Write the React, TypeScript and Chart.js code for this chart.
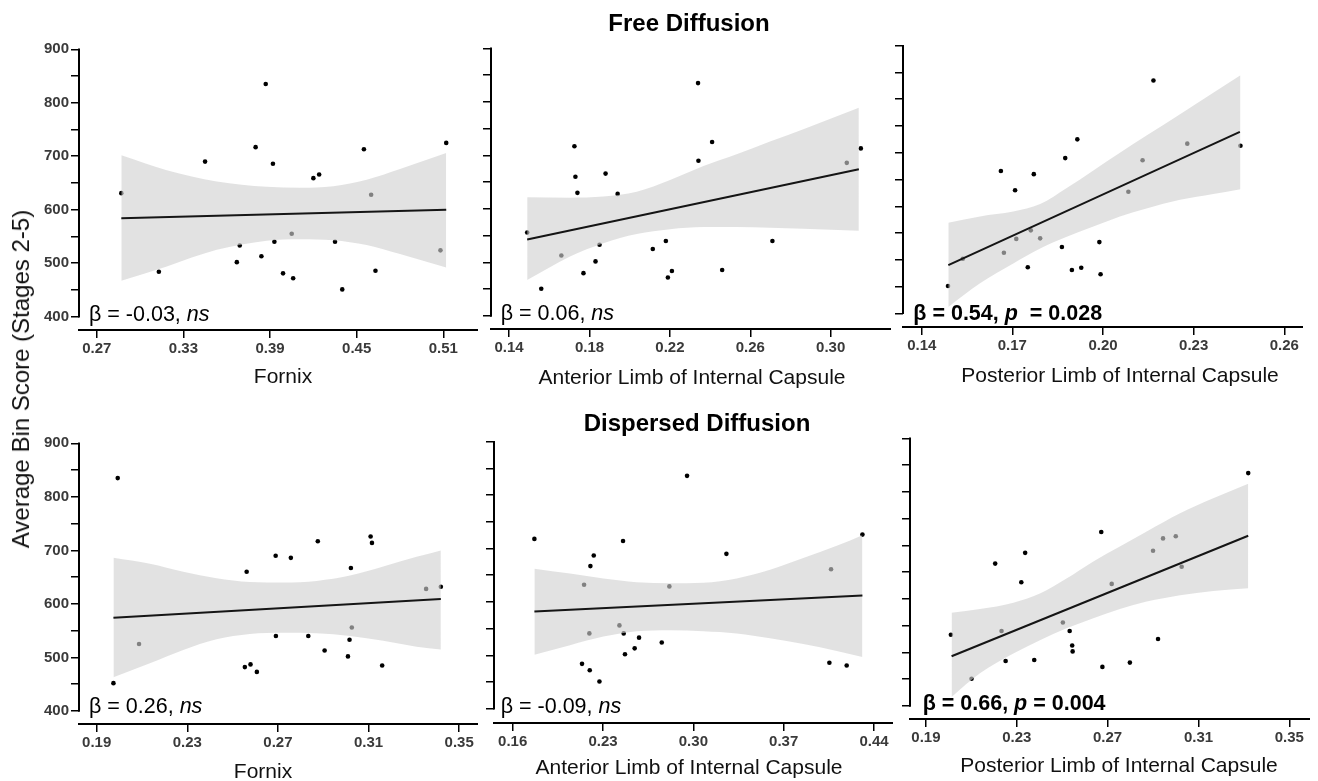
import React, { useEffect, useRef } from "react";
import { Chart, registerables } from "chart.js";

Chart.register(...registerables);

const FONT = '"Liberation Sans", Arial, Helvetica, sans-serif';

// ---------- shared axis ticks ----------
const yTicks = [400, 450, 500, 550, 600, 650, 700, 750, 800, 850, 900];

// ---------- Free Diffusion : Fornix ----------
const freeFornixTicks = [0.27, 0.33, 0.39, 0.45, 0.51];
const freeFornixX = [0.287, 0.313, 0.345, 0.367, 0.369, 0.38, 0.384, 0.387, 0.392, 0.393, 0.399, 0.405, 0.406, 0.42, 0.424, 0.435, 0.44, 0.455, 0.46, 0.463, 0.508, 0.512];
const freeFornixY = [631, 484, 690, 502, 533, 717, 513, 835, 686, 540, 481, 555, 472, 659, 666, 540, 451, 713, 628, 486, 524, 725];
const freeFornixFitX = [0.287, 0.512];
const freeFornixFitY = [584, 600];
const freeFornixBandX = [0.287, 0.3185, 0.3531, 0.3877, 0.4108, 0.4338, 0.4569, 0.48, 0.512];
const freeFornixBandUpper = [702, 674, 653, 643, 641, 644, 656, 676, 706];
const freeFornixBandLower = [467, 494, 525, 542, 545, 543, 534, 517, 492];

// ---------- Free Diffusion : ALIC ----------
const freeAlicTicks = [0.14, 0.18, 0.22, 0.26, 0.3];
const freeAlicX = [0.149, 0.156, 0.166, 0.1725, 0.173, 0.174, 0.177, 0.183, 0.185, 0.188, 0.194, 0.2115, 0.218, 0.219, 0.221, 0.234, 0.2342, 0.241, 0.246, 0.271, 0.308, 0.315];
const freeAlicY = [556, 451, 513, 717, 660, 630, 480, 502, 533, 666, 628, 525, 540, 472, 484, 835, 690, 725, 486, 540, 686, 713];
const freeAlicFitX = [0.149, 0.314];
const freeAlicFitY = [543, 674];
const freeAlicBandX = [0.149, 0.1703, 0.1869, 0.2035, 0.2201, 0.2367, 0.2532, 0.2698, 0.2864, 0.314];
const freeAlicBandUpper = [622, 621, 623, 632, 654, 680, 702, 726, 749, 789];
const freeAlicBandLower = [467, 511, 536, 553, 562, 566, 566, 565, 563, 559];

// ---------- Free Diffusion : PLIC ----------
const freePlicTicks = [0.14, 0.17, 0.2, 0.23, 0.26];
const freePlicX = [0.1487, 0.1536, 0.1662, 0.1672, 0.1709, 0.1713, 0.1751, 0.1761, 0.1771, 0.1792, 0.1864, 0.1875, 0.1897, 0.1915, 0.1928, 0.1988, 0.1992, 0.2084, 0.2131, 0.2167, 0.2279, 0.2455];
const freePlicY = [451, 502, 666, 513, 630, 539, 486, 555, 660, 540, 524, 690, 481, 725, 485, 533, 473, 627, 686, 835, 717, 713];
const freePlicFitX = [0.1488, 0.2453];
const freePlicFitY = [490, 739];
const freePlicBandX = [0.1488, 0.1593, 0.1703, 0.1792, 0.188, 0.1968, 0.2056, 0.2144, 0.2255, 0.2365, 0.2455];
const freePlicBandUpper = [569, 581, 590, 604, 634, 667, 700, 732, 772, 812, 845];
const freePlicBandLower = [412, 456, 493, 521, 543, 562, 581, 596, 612, 623, 632];

// ---------- Dispersed Diffusion : Fornix ----------
const dispFornixTicks = [0.19, 0.23, 0.27, 0.31, 0.35];
const dispFornixX = [0.1974, 0.1993, 0.2087, 0.2554, 0.2562, 0.2579, 0.2607, 0.269, 0.2691, 0.2757, 0.2834, 0.2876, 0.2906, 0.3009, 0.3016, 0.3022, 0.3026, 0.3109, 0.3115, 0.316, 0.3354, 0.3419];
const dispFornixY = [452, 835, 525, 482, 660, 487, 473, 690, 540, 686, 540, 717, 513, 502, 533, 667, 556, 726, 714, 485, 628, 632];
const dispFornixFitX = [0.1974, 0.3419];
const dispFornixFitY = [574, 609];
const dispFornixBandX = [0.1974, 0.2135, 0.2282, 0.2429, 0.2576, 0.2724, 0.2871, 0.3018, 0.3165, 0.3312, 0.3419];
const dispFornixBandUpper = [686, 675, 660, 648, 641, 640, 643, 653, 670, 688, 700];
const dispFornixBandLower = [463, 489, 514, 534, 544, 546, 545, 540, 531, 520, 515];

// ---------- Dispersed Diffusion : ALIC ----------
const dispAlicTicks = [0.16, 0.23, 0.3, 0.37, 0.44];
const dispAlicX = [0.1768, 0.2137, 0.2153, 0.2194, 0.2197, 0.2202, 0.2228, 0.2272, 0.2427, 0.2455, 0.246, 0.247, 0.2545, 0.2579, 0.2755, 0.2814, 0.2951, 0.3256, 0.4054, 0.4067, 0.4188, 0.431];
const dispAlicY = [718, 484, 632, 541, 472, 667, 687, 451, 556, 714, 541, 502, 513, 533, 524, 629, 836, 690, 486, 661, 481, 726];
const dispAlicFitX = [0.1768, 0.431];
const dispAlicFitY = [582, 612];
const dispAlicBandX = [0.1768, 0.2044, 0.2303, 0.2561, 0.2819, 0.3077, 0.3336, 0.3594, 0.3852, 0.4111, 0.431];
const dispAlicBandUpper = [662, 653, 644, 637, 635, 636, 644, 660, 682, 705, 725];
const dispAlicBandLower = [501, 519, 535, 545, 547, 545, 541, 532, 521, 508, 497];

// ---------- Dispersed Diffusion : PLIC ----------
const dispPlicTicks = [0.19, 0.23, 0.27, 0.31, 0.35];
const dispPlicX = [0.201, 0.2101, 0.2205, 0.2233, 0.2251, 0.232, 0.2337, 0.2377, 0.2503, 0.2533, 0.2544, 0.2546, 0.2672, 0.2677, 0.2718, 0.2798, 0.29, 0.2922, 0.2944, 0.3, 0.3026, 0.3319];
const dispPlicY = [533, 451, 666, 540, 484, 631, 686, 486, 556, 540, 513, 502, 725, 473, 628, 481, 690, 525, 713, 717, 660, 835];
const dispPlicFitX = [0.2013, 0.3319];
const dispPlicFitY = [493, 718];
const dispPlicBandX = [0.2013, 0.2138, 0.2285, 0.2402, 0.2519, 0.2637, 0.2754, 0.2872, 0.3019, 0.3165, 0.3319];
const dispPlicBandUpper = [574, 581, 593, 610, 638, 670, 698, 726, 760, 788, 815];
const dispPlicBandLower = [417, 461, 498, 523, 545, 564, 581, 595, 607, 615, 620];

// ---------- texts ----------
const rowTitles = ["Free Diffusion", "Dispersed Diffusion"];
const yAxisLabel = "Average Bin Score (Stages 2-5)";
const xTitles = ["Fornix", "Anterior Limb of Internal Capsule", "Posterior Limb of Internal Capsule"];

type Part = { t: string; i?: boolean };

interface PanelCfg {
  box: { l: number; t: number; w: number; h: number };
  wy: number;
  xRange: [number, number];
  yRange: [number, number];
  xTicks: number[];
  showYLabels: boolean;
  px: number[];
  py: number[];
  fx: number[];
  fy: number[];
  bx: number[];
  bu: number[];
  bl: number[];
  title: string;
  titleDx: number;
  titleDy: number;
  ann: Part[];
  annBold: boolean;
  annDx: number;
  annDy: number;
}

const zip = (xs: number[], ys: number[]) => xs.map((x, i) => ({ x, y: ys[i] }));

const panels: PanelCfg[] = [
  {
    box: { l: 0, t: 41, w: 478, h: 351 }, wy: 79,
    xRange: [0.2577, 0.534], yRange: [375.1, 915.5], xTicks: freeFornixTicks, showYLabels: true,
    px: freeFornixX, py: freeFornixY, fx: freeFornixFitX, fy: freeFornixFitY,
    bx: freeFornixBandX, bu: freeFornixBandUpper, bl: freeFornixBandLower,
    title: xTitles[0], titleDx: 204, titleDy: 53.3,
    ann: [{ t: "β = -0.03, " }, { t: "ns", i: true }], annBold: false, annDx: 10, annDy: -9.3,
  },
  {
    box: { l: 476, t: 40, w: 415, h: 351 }, wy: 15,
    xRange: [0.131, 0.33], yRange: [375.7, 915.5], xTicks: freeAlicTicks, showYLabels: false,
    px: freeAlicX, py: freeAlicY, fx: freeAlicFitX, fy: freeAlicFitY,
    bx: freeAlicBandX, bu: freeAlicBandUpper, bl: freeAlicBandLower,
    title: xTitles[1], titleDx: 201, titleDy: 54.7,
    ann: [{ t: "β = 0.06, " }, { t: "ns", i: true }], annBold: false, annDx: 9.7, annDy: -9.5,
  },
  {
    box: { l: 888, t: 38, w: 415, h: 351 }, wy: 15,
    xRange: [0.1338, 0.2662], yRange: [374.4, 914.4], xTicks: freePlicTicks, showYLabels: false,
    px: freePlicX, py: freePlicY, fx: freePlicFitX, fy: freePlicFitY,
    bx: freePlicBandX, bu: freePlicBandUpper, bl: freePlicBandLower,
    title: xTitles[2], titleDx: 217, titleDy: 55,
    ann: [{ t: "β = 0.54, " }, { t: "p", i: true }, { t: "  = 0.028" }], annBold: true, annDx: 10.3, annDy: -7,
  },
  {
    box: { l: 0, t: 435, w: 478, h: 351 }, wy: 79,
    xRange: [0.1822, 0.3583], yRange: [375.7, 915.5], xTicks: dispFornixTicks, showYLabels: true,
    px: dispFornixX, py: dispFornixY, fx: dispFornixFitX, fy: dispFornixFitY,
    bx: dispFornixBandX, bu: dispFornixBandUpper, bl: dispFornixBandLower,
    title: xTitles[0], titleDx: 184, titleDy: 53.7,
    ann: [{ t: "β = 0.26, " }, { t: "ns", i: true }], annBold: false, annDx: 10, annDy: -11.3,
  },
  {
    box: { l: 479, t: 434, w: 414, h: 351 }, wy: 15,
    xRange: [0.1455, 0.4547], yRange: [373.2, 914.4], xTicks: dispAlicTicks, showYLabels: false,
    px: dispAlicX, py: dispAlicY, fx: dispAlicFitX, fy: dispAlicFitY,
    bx: dispAlicBandX, bu: dispAlicBandUpper, bl: dispAlicBandLower,
    title: xTitles[1], titleDx: 195, titleDy: 50.6,
    ann: [{ t: "β = -0.09, " }, { t: "ns", i: true }], annBold: false, annDx: 6.7, annDy: -9.7,
  },
  {
    box: { l: 895, t: 430, w: 415, h: 351 }, wy: 15,
    xRange: [0.183, 0.3591], yRange: [375.7, 915.5], xTicks: dispPlicTicks, showYLabels: false,
    px: dispPlicX, py: dispPlicY, fx: dispPlicFitX, fy: dispPlicFitY,
    bx: dispPlicBandX, bu: dispPlicBandUpper, bl: dispPlicBandLower,
    title: xTitles[2], titleDx: 209, titleDy: 53.4,
    ann: [{ t: "β = 0.66, " }, { t: "p", i: true }, { t: " = 0.004" }], annBold: true, annDx: 12.7, annDy: -9,
  },
];

const X_AXIS_H = 62;
const TICK_COLOR = "#3a3a3a";
const BAND_COLOR = "rgba(208,208,208,0.62)";

function Panel({ cfg }: { cfg: PanelCfg }) {
  const ref = useRef<HTMLCanvasElement>(null);
  useEffect(() => {
    const canvas = ref.current;
    if (!canvas) return;
    const decor = {
      id: "panelDecor",
      afterDraw(chart: any) {
        const { ctx, chartArea } = chart;
        const ys = chart.scales.y;
        ctx.save();
        // y axis line from 400 to 900
        const ax = Math.round(chartArea.left);
        ctx.beginPath();
        ctx.strokeStyle = "#000";
        ctx.lineWidth = 2;
        ctx.moveTo(ax, ys.getPixelForValue(yTicks[yTicks.length - 1]) - 0.75);
        ctx.lineTo(ax, ys.getPixelForValue(yTicks[0]) + 0.75);
        ctx.stroke();
        // annotation
        let x = chartArea.left + cfg.annDx;
        const yb = chartArea.bottom + cfg.annDy;
        ctx.fillStyle = "#000";
        ctx.textAlign = "left";
        ctx.textBaseline = "alphabetic";
        for (const p of cfg.ann) {
          ctx.font = `${p.i ? "italic " : ""}${cfg.annBold ? "bold " : ""}21.5px ${FONT}`;
          ctx.fillText(p.t, x, yb);
          x += ctx.measureText(p.t).width;
        }
        // axis title
        ctx.font = `21px ${FONT}`;
        ctx.fillStyle = "#111";
        ctx.textAlign = "center";
        ctx.fillText(cfg.title, chartArea.left + cfg.titleDx, chartArea.bottom + cfg.titleDy);
        ctx.restore();
      },
    };
    const chart = new Chart(canvas, {
      type: "line",
      data: {
        datasets: [
          {
            data: zip(cfg.fx, cfg.fy),
            borderColor: "#151515",
            borderWidth: 2,
            pointRadius: 0,
            fill: false,
            order: 0,
          },
          {
            data: zip(cfg.bx, cfg.bl),
            borderWidth: 0,
            borderColor: "rgba(0,0,0,0)",
            pointRadius: 0,
            fill: false,
            cubicInterpolationMode: "monotone",
            order: 1,
          },
          {
            data: zip(cfg.bx, cfg.bu),
            borderWidth: 0,
            borderColor: "rgba(0,0,0,0)",
            backgroundColor: BAND_COLOR,
            pointRadius: 0,
            fill: "-1",
            cubicInterpolationMode: "monotone",
            order: 1,
          },
          {
            data: zip(cfg.px, cfg.py),
            showLine: false,
            pointRadius: 2.3,
            pointBackgroundColor: "#000",
            pointBorderWidth: 0,
            pointBorderColor: "#000",
            order: 2,
          },
        ] as any,
      },
      options: {
        animation: false,
        responsive: false,
        maintainAspectRatio: false,
        events: [],
        layout: { padding: 0, autoPadding: false } as any,
        plugins: {
          legend: { display: false },
          tooltip: { enabled: false },
          title: { display: false },
        },
        scales: {
          x: {
            type: "linear",
            position: "bottom",
            min: cfg.xRange[0],
            max: cfg.xRange[1],
            afterBuildTicks: (s: any) => {
              s.ticks = cfg.xTicks.map((v) => ({ value: v }));
            },
            afterFit: (s: any) => {
              s.height = X_AXIS_H;
              s.paddingLeft = 0;
              s.paddingRight = 0;
            },
            grid: {
              display: true,
              drawOnChartArea: false,
              drawTicks: true,
              tickLength: 8,
              color: "#000",
              lineWidth: 1.5,
              tickWidth: 1.5,
            },
            border: { display: true, color: "#000", width: 2 },
            ticks: {
              autoSkip: false,
              maxRotation: 0,
              minRotation: 0,
              padding: 2,
              color: TICK_COLOR,
              font: { family: FONT, size: 15, weight: "bold" },
              callback: (v: any) => Number(v).toFixed(2),
            },
          },
          y: {
            type: "linear",
            position: "left",
            min: cfg.yRange[0],
            max: cfg.yRange[1],
            afterBuildTicks: (s: any) => {
              s.ticks = yTicks.map((v) => ({ value: v }));
            },
            afterFit: (s: any) => {
              s.width = cfg.wy;
              s.paddingTop = 0;
              s.paddingBottom = 0;
            },
            grid: {
              display: true,
              drawOnChartArea: false,
              drawTicks: true,
              tickLength: 8,
              color: "#000",
              lineWidth: 1.5,
              tickWidth: 1.5,
            },
            border: { display: false },
            ticks: {
              autoSkip: false,
              padding: 2,
              color: TICK_COLOR,
              font: { family: FONT, size: 15, weight: "bold" },
              callback: (v: any) => (cfg.showYLabels && Number(v) % 100 === 0 ? String(v) : ""),
            },
          },
        },
      } as any,
      plugins: [decor],
    });
    return () => chart.destroy();
  }, [cfg]);
  const { l, t, w, h } = cfg.box;
  return (
    <canvas
      ref={ref}
      width={w}
      height={h}
      style={{ position: "absolute", left: l, top: t, width: w, height: h }}
    />
  );
}

export default function App() {
  return (
    <div
      style={{
        position: "absolute",
        left: 0,
        top: 0,
        width: 1318,
        height: 781,
        overflow: "hidden",
        background: "#fff",
        fontFamily: FONT,
      }}
    >
      {panels.map((p, i) => (
        <Panel key={i} cfg={p} />
      ))}
      <div
        style={{
          position: "absolute",
          left: 489,
          top: 11.4,
          width: 400,
          textAlign: "center",
          fontSize: 24,
          lineHeight: "24px",
          fontWeight: "bold",
          color: "#000",
          whiteSpace: "nowrap",
        }}
      >
        {rowTitles[0]}
      </div>
      <div
        style={{
          position: "absolute",
          left: 497,
          top: 411.4,
          width: 400,
          textAlign: "center",
          fontSize: 24,
          lineHeight: "24px",
          fontWeight: "bold",
          color: "#000",
          whiteSpace: "nowrap",
        }}
      >
        {rowTitles[1]}
      </div>
      <div
        style={{
          position: "absolute",
          left: 21,
          top: 379,
          fontSize: 24,
          lineHeight: "24px",
          color: "#111",
          whiteSpace: "nowrap",
          transform: "translate(-50%, -50%) rotate(-90deg)",
        }}
      >
        {yAxisLabel}
      </div>
    </div>
  );
}
